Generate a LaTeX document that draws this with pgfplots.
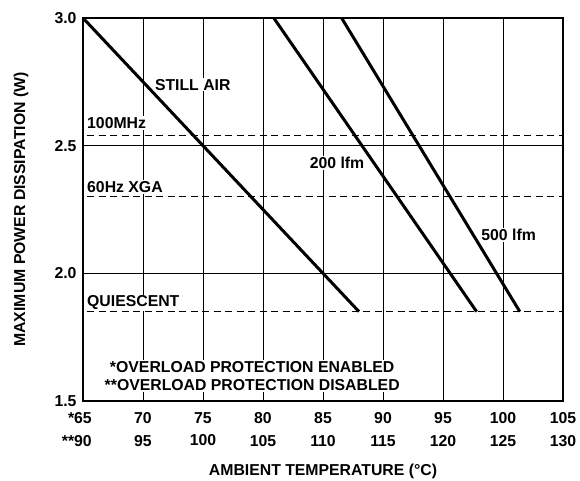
\documentclass[border=0pt]{standalone}
\usepackage{pgfplots}
\pgfplotsset{compat=1.18}
\usepackage{fontspec}
\setmainfont{Liberation Sans}

\newcommand{\lbl}{\fontsize{15.8bp}{19bp}\selectfont\bfseries}

\begin{document}
\begin{tikzpicture}
\useasboundingbox (0,0) rectangle (580bp,481bp);
\begin{axis}[
    at={(83bp,80bp)}, anchor=south west,
    scale only axis,
    width=480bp, height=383bp,
    xmin=65, xmax=105,
    ymin=1.5, ymax=3.0,
    xtick={65,70,...,105},
    ytick={1.5,2.0,2.5,3.0},
    yticklabels={1.5,2.0,2.5,3.0},
    xticklabels={{\llap{*}65\\[3.5bp]\llap{**}90},{70\\[3.5bp]95},{75\\[3.5bp]100},{80\\[3.5bp]105},
                 {85\\[3.5bp]110},{90\\[3.5bp]115},{95\\[3.5bp]120},{100\\[3.5bp]125},{105\\[3.5bp]130}},
    xticklabel style={font=\lbl, align=center, anchor=north, yshift=-8bp},
    yticklabel style={font=\lbl, anchor=east, xshift=-3bp},
    major tick length=0pt,
    xmajorgrids, ymajorgrids,
    grid style={line width=1bp, black},
    axis line style={line width=1.8bp},
    xlabel={AMBIENT TEMPERATURE (°C)},
    ylabel={MAXIMUM POWER DISSIPATION (W)},
    xlabel style={font=\lbl, at={(axis description cs:0.5,-0.1846)}, anchor=center},
    ylabel style={font=\lbl, at={(axis description cs:-0.129,0.5)}, anchor=center},
]
% thermal derating curves
\addplot[black, line width=3bp] coordinates {(65,3.0) (88,1.85)};
\addplot[black, line width=3bp] coordinates {(80.9,3.0) (97.8,1.85)};
\addplot[black, line width=3bp] coordinates {(86.55,3.0) (101.4,1.85)};

% power levels
\addplot[black, line width=1.1bp, dash pattern=on 7bp off 4.5bp] coordinates {(65.35,2.54) (105,2.54)};
\addplot[black, line width=1.1bp, dash pattern=on 7bp off 4.5bp] coordinates {(65.35,2.30) (105,2.30)};
\addplot[black, line width=1.1bp, dash pattern=on 7bp off 4.5bp] coordinates {(65.35,1.85) (105,1.85)};

\node[font=\lbl, anchor=west, fill=white, inner sep=1bp] at (axis cs:70.9,2.738) {STILL AIR};
\node[font=\lbl, anchor=west, fill=white, inner sep=1bp] at (axis cs:83.8,2.432) {200 lfm};
\node[font=\lbl, anchor=west, fill=white, inner sep=1bp] at (axis cs:98.1,2.150) {500 lfm};
\node[font=\lbl, anchor=west, fill=white, inner sep=1bp] at (axis cs:65.25,2.589) {100MHz};
\node[font=\lbl, anchor=west, fill=white, inner sep=1bp] at (axis cs:65.25,2.338) {60Hz XGA};
\node[font=\lbl, anchor=west, fill=white, inner sep=1bp] at (axis cs:65.25,1.885) {QUIESCENT};
\node[align=center, fill=white, inner sep=1bp, font=\fontsize{15.8bp}{18.3bp}\selectfont\bfseries]
    at (axis cs:79.1,1.598) {*OVERLOAD PROTECTION ENABLED\\**OVERLOAD PROTECTION DISABLED};
\end{axis}
\end{tikzpicture}
\end{document}
